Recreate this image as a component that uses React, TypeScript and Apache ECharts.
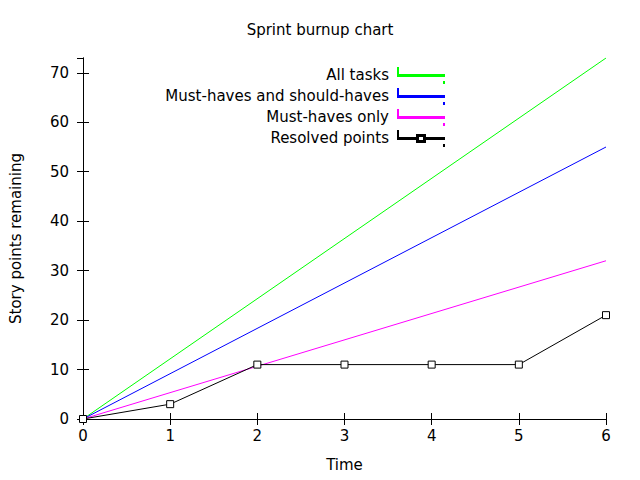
import React, { useEffect, useRef } from 'react';
import * as echarts from 'echarts';

const xEnd = [0, 6];
const allTasks = [0, 73];
const mustShould = [0, 55];
const mustOnly = [0, 32];
const resolvedX = [0, 1, 2, 3, 4, 5, 6];
const resolved = [0, 3, 11, 11, 11, 11, 21];

const font = 'DejaVu Sans';
const plainIcon = 'path://M0,0L0.01,0L0.01,7L0,7Z M0,7L46,7L46,8L0,8Z M46,14L46.01,14L46.01,15L46,15Z';
const boxIcon = 'path://M0,0L0.01,0L0.01,7L0,7Z M0,7L19,7L19,4L27,4L27,7L46,7L46,8L27,8L27,11L19,11L19,8L0,8Z M20,5L20,10L26,10L26,5Z M46,14L46.01,14L46.01,15L46,15Z';

const App: React.FC = () => {
  const ref = useRef<HTMLDivElement | null>(null);

  useEffect(() => {
    if (!ref.current) return;
    const chart = echarts.init(ref.current, undefined, { renderer: 'svg' });
    const mirror = {
      axisLine: { show: true, lineStyle: { color: '#000' } },
      axisLabel: { show: false },
      splitLine: { show: false },
      axisTick: { show: true, inside: true, length: 6, lineStyle: { color: '#000' } },
    };
    const line = (name: string, xs: number[], ys: number[], color: string, symbol = 'none') => ({
      name,
      type: 'line',
      data: xs.map((x, i) => [x, ys[i]]),
      symbol,
      symbolSize: 7,
      showSymbol: symbol !== 'none',
      itemStyle: { color: '#fff', borderColor: color, borderWidth: 1 },
      lineStyle: { color, width: 1 },
      color,
    });
    chart.setOption({
      animation: false,
      textStyle: { fontFamily: font },
      title: {
        text: 'Sprint burnup chart',
        left: 'center',
        top: 17,
        textStyle: { fontFamily: font, fontSize: 15, fontWeight: 'normal', color: '#000' },
      },
      legend: {
        orient: 'vertical',
        align: 'right',
        right: 190,
        top: 62,
        itemGap: 4,
        itemWidth: 46,
        itemHeight: 15,
        textStyle: { fontFamily: font, fontSize: 15, lineHeight: 15, color: '#000', padding: [0, 4, 0, 0] },
        data: [
          { name: 'All tasks', icon: plainIcon, itemStyle: { color: '#00ff00' } },
          { name: 'Must-haves and should-haves', icon: plainIcon, itemStyle: { color: '#0000a0' } },
          { name: 'Must-haves only', icon: plainIcon, itemStyle: { color: '#ff00ff' } },
          { name: 'Resolved points', icon: boxIcon, itemStyle: { color: '#000' } },
        ],
      },
      grid: { left: 80, right: 34, top: 58, bottom: 61 },
      xAxis: [
        {
          type: 'value',
          min: 0,
          max: 6,
          interval: 1,
          name: 'Time',
          nameLocation: 'middle',
          nameGap: 38,
          nameTextStyle: { fontFamily: font, fontSize: 15, color: '#000' },
          axisLine: { lineStyle: { color: '#000' } },
          axisTick: { inside: true, length: 6 },
          axisLabel: { fontFamily: font, fontSize: 15, color: '#000', margin: 9 },
          splitLine: { show: false },
        },
        { type: 'value', position: 'top', min: 0, max: 6, interval: 1, ...mirror },
      ],
      yAxis: [
        {
          type: 'value',
          min: 0,
          max: 73,
          interval: 10,
          name: 'Story points remaining',
          nameLocation: 'middle',
          nameGap: 60,
          nameTextStyle: { fontFamily: font, fontSize: 15, color: '#000' },
          axisLine: { show: true, lineStyle: { color: '#000' } },
          axisTick: { show: true, inside: true, length: 6 },
          axisLabel: { fontFamily: font, fontSize: 15, color: '#000', margin: 14, showMaxLabel: false },
          splitLine: { show: false },
        },
        { type: 'value', position: 'right', min: 0, max: 73, interval: 10, ...mirror, axisLabel: { show: false, showMaxLabel: false } },
      ],
      series: [
        line('All tasks', xEnd, allTasks, '#00ff00'),
        line('Must-haves and should-haves', xEnd, mustShould, '#0000ff'),
        line('Must-haves only', xEnd, mustOnly, '#ff00ff'),
        line('Resolved points', resolvedX, resolved, '#000000', 'rect'),
      ],
    });
    return () => chart.dispose();
  }, []);

  return <div ref={ref} style={{ width: 640, height: 480, margin: -8 }} />;
};

export default App;
